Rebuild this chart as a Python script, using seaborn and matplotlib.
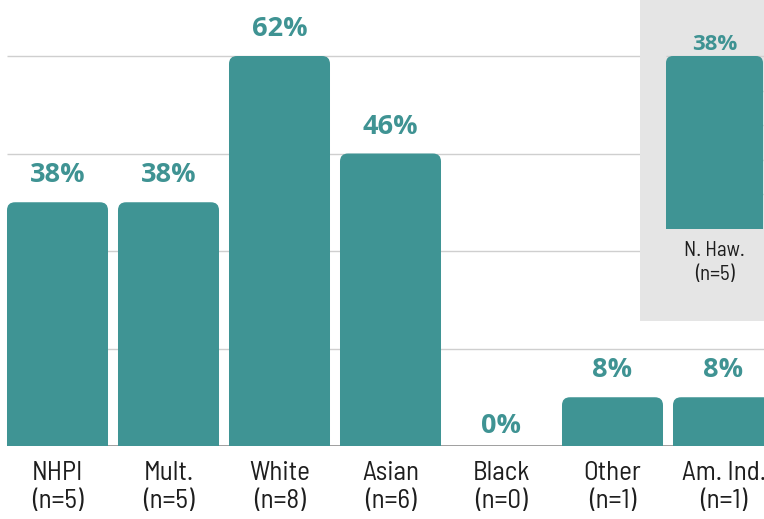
import numpy as np
import pandas as pd
import matplotlib
matplotlib.use("Agg")
import matplotlib.pyplot as plt
from matplotlib.patches import FancyBboxPatch, Rectangle
import seaborn as sns

# Respondent counts per group (out of 13 respondents)
groups = ["NHPI", "Mult.", "White", "Asian", "Black", "Other", "Am. Ind."]
counts = [5, 5, 8, 6, 0, 1, 1]
total = 13

inset_group = "N. Haw."
inset_count = 5

grid_counts = [2, 4, 6, 8]
inset_grid_counts = [1, 2, 3, 4, 5]

TEAL = "#3f9494"
LABEL_TEAL = "#3f9393"
PANEL_GREY = "#e5e5e5"
GRID_GREY = "#cfcfcf"
BASE_GREY = "#8f8f8f"
TEXT_DARK = "#1e1e1e"

sns.set_theme(style="white")
cat_font = ["Barlow Semi Condensed", "Roboto Condensed", "DejaVu Sans"]
val_font = ["Open Sans", "DejaVu Sans"]
plt.rcParams["font.family"] = cat_font

pct = [c / total * 100 for c in counts]
inset_pct = inset_count / total * 100
df = pd.DataFrame({
    "label": [f"{g}\n(n={c})" for g, c in zip(groups, counts)],
    "pct": pct,
})
df_inset = pd.DataFrame({"label": [f"{inset_group}\n(n={inset_count})"], "pct": [inset_pct]})

W, H = 764, 519
fig = plt.figure(figsize=(W / 100, H / 100), dpi=100)
fig.patch.set_facecolor("white")


def px_axes(left, top, right, bottom):
    return fig.add_axes([left / W, (H - bottom) / H, (right - left) / W, (bottom - top) / H])


def round_tops(ax, radius_px, clip_rect=None):
    x0, y0 = ax.transData.transform((0, 0))
    x1, y1 = ax.transData.transform((1, 1))
    ppx, ppy = abs(x1 - x0), abs(y1 - y0)
    rx = radius_px / ppx
    ry = radius_px / ppy
    for p in list(ax.patches):
        x, w, h = p.get_x(), p.get_width(), p.get_height()
        fc = p.get_facecolor()
        p.remove()
        if h <= 0:
            continue
        fb = FancyBboxPatch((x, -2 * ry), w, h + 2 * ry,
                            boxstyle=f"round,pad=0,rounding_size={rx}",
                            mutation_aspect=ry / rx, facecolor=fc,
                            edgecolor="none", zorder=3)
        ax.add_patch(fb)
        if clip_rect is not None:
            fb.set_clip_path(clip_rect)


# ---- main chart ----
ax = px_axes(0, 0, W, 446)
sns.barplot(data=df, x="label", y="pct", color=TEAL, saturation=1,
            width=0.91, ax=ax, zorder=3)
ax.set_xlim(-57.5 / 111, (W - 57.5) / 111)
ax.set_ylim(0, 446 / (48.75 * total / 100))
ax.set_xlabel("")
ax.set_ylabel("")
ax.set_yticks([])
for s in ax.spines.values():
    s.set_visible(False)
ax.tick_params(axis="x", length=0, pad=11, labelsize=19.5, labelcolor=TEXT_DARK)
for t in ax.get_xticklabels():
    t.set_linespacing(1.18)
    t.set_family(cat_font)
# the last label sits against the right edge; nudge it inward
ax.get_xticklabels()[-1].set_x(len(groups) - 1 - 0.05)

left_edge = -0.455
for gc in grid_counts:
    ax.hlines(gc / total * 100, left_edge, ax.get_xlim()[1], color=GRID_GREY, lw=1, zorder=1)
ax.hlines(0, left_edge, ax.get_xlim()[1], color=BASE_GREY, lw=1.2, zorder=2)

round_tops(ax, 8)
for i, v in enumerate(pct):
    ax.annotate(f"{v:.0f}%", (i, v), xytext=(0, 10 if v > 0 else 5),
                textcoords="offset points", ha="center", va="bottom",
                fontsize=19.5, fontweight="bold", color=LABEL_TEAL,
                family=val_font, zorder=4)

# ---- inset panel ----
ax2 = px_axes(640, 0, W, 321)
ax2.set_facecolor(PANEL_GREY)
ax2.set_zorder(5)
sns.barplot(data=df_inset, x="label", y="pct", color=TEAL, saturation=1,
            width=0.8, ax=ax2, zorder=3)
ppu = 97 / 0.8
ax2.set_xlim(-(714.5 - 640) / ppu, (W - 714.5) / ppu)
ipp = 173 / inset_pct
ax2.set_ylim(-92 / ipp, 229 / ipp)
ax2.set_xticks([])
ax2.set_yticks([])
ax2.set_xlabel("")
ax2.set_ylabel("")
for s in ax2.spines.values():
    s.set_visible(False)
for gc in inset_grid_counts:
    ax2.hlines(gc / total * 100, -0.4, ax2.get_xlim()[1], color=GRID_GREY, lw=1, zorder=1)
clip = Rectangle((ax2.get_xlim()[0], 0), 5, 200, transform=ax2.transData)
round_tops(ax2, 7, clip_rect=clip)
ax2.annotate(f"{inset_pct:.0f}%", (0, inset_pct), xytext=(0, 1), textcoords="offset points",
             ha="center", va="bottom", fontsize=16, fontweight="bold",
             color=LABEL_TEAL, family=val_font, zorder=4)
ax2.annotate(df_inset["label"][0], (0, 0), xytext=(0, -9), textcoords="offset points",
             ha="center", va="top", fontsize=15, color=TEXT_DARK,
             family=cat_font, linespacing=1.3)

fig.savefig("out.png", dpi=100)
